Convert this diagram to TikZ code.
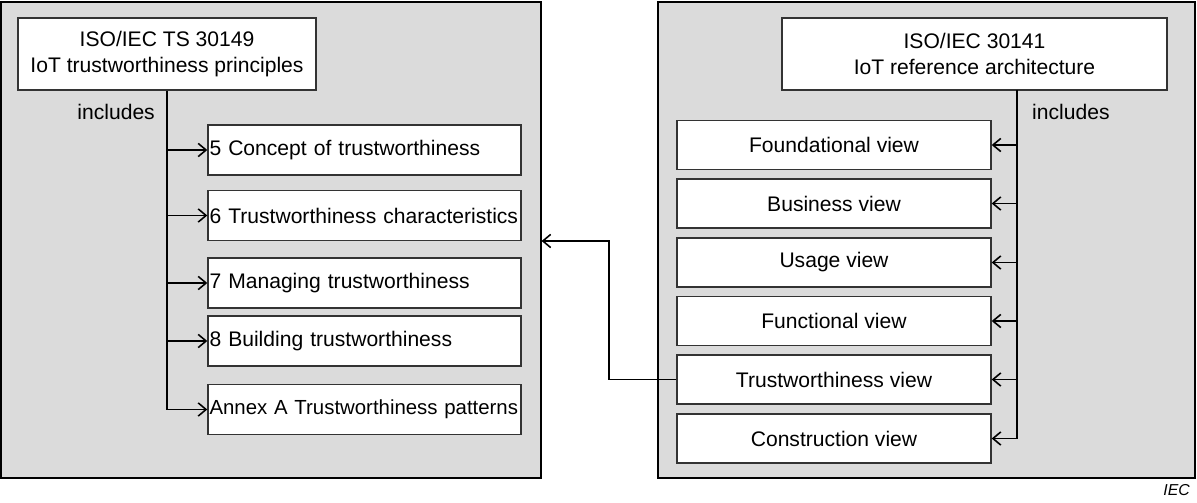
\documentclass[tikz,border=0pt]{standalone}
\usepackage{fontspec}
\setmainfont{Liberation Sans}
\usetikzlibrary{arrows.meta,positioning}
\definecolor{panelgray}{gray}{0.86}
\definecolor{boxline}{gray}{0.2}

\begin{document}
\begin{tikzpicture}[x=0.02cm, y=-0.02cm,
    >={Straight Barb[length=4.5pt,width=7.5pt]},
    font=\fontsize{12}{14.5}\selectfont,
    panel/.style={draw, fill=panelgray, line width=0.7pt, inner sep=0pt},
    headbox/.style={draw=boxline, fill=white, line width=0.8pt, align=center,
        minimum height=1.44cm},
    partbox/.style={draw=boxline, fill=white, line width=0.8pt, inner xsep=0.8pt,
        minimum width=6.26cm, minimum height=1cm, text width=6.2cm,
        align=left},
    viewbox/.style={draw=boxline, fill=white, line width=0.8pt,
        minimum width=6.28cm, minimum height=0.98cm, align=center},
    link/.style={->, line width=0.9pt}]
    \useasboundingbox (0,0) rectangle (1197,503);

    % Panels
    \node[panel, minimum width=10.8cm, minimum height=9.52cm] (lpanel) at (271,240) {};
    \node[panel, minimum width=10.74cm, minimum height=9.52cm] (rpanel) at (926.5,240) {};

    % Trustworthiness principles (left)
    \node[headbox, minimum width=5.96cm] (lhead) at (167,54)
        {ISO/IEC TS 30149\\IoT trustworthiness principles};
    \node[anchor=east] (linc) at (161,112) {includes};
    \node[partbox] (concept) at (364.5,150) {5 Concept of trustworthiness};
    \node[partbox] (charact) at (364.5,215.5) {6 Trustworthiness characteristics};
    \node[partbox] (manage) at (364.5,283) {7 Managing trustworthiness};
    \node[partbox] (build) at (364.5,341) {8 Building trustworthiness};
    \node[partbox, font=\fontsize{11.6}{14}\selectfont] (annex) at (364.5,409.5)
        {Annex A Trustworthiness patterns};

    \draw[link] (lhead.south) |- (annex.west);
    \foreach \n in {concept,charact,manage,build}
        \draw[link] (lhead.south |- \n.west) -- (\n.west);

    % Reference architecture (right)
    \node[headbox, minimum width=7.7cm] (rhead) at (974.5,54)
        {ISO/IEC 30141\\IoT reference architecture};
    \coordinate (rtop) at (1017,90);
    \node[anchor=west] (rinc) at (1026,112) {includes};
    \node[viewbox] (found) at (834,145) {Foundational view};
    \node[viewbox] (business) at (834,203.5) {Business view};
    \node[viewbox] (usage) at (834,262.5) {Usage view};
    \node[viewbox] (func) at (834,321) {Functional view};
    \node[viewbox] (trust) at (834,379.5) {Trustworthiness view};
    \node[viewbox] (constr) at (834,438.5) {Construction view};

    \draw[link] (rtop) |- (constr.east);
    \foreach \n in {found,business,usage,func,trust}
        \draw[link] (rtop |- \n.east) -- (\n.east);

    % Trustworthiness view refers back to the principles
    \coordinate (bend) at (609,241);
    \draw[link] (trust.west) -| (bend) -- (lpanel.east |- bend);

    \node[anchor=south east, font=\fontsize{9}{10}\itshape] (iec) at (1196,502) {IEC};
\end{tikzpicture}
\end{document}
